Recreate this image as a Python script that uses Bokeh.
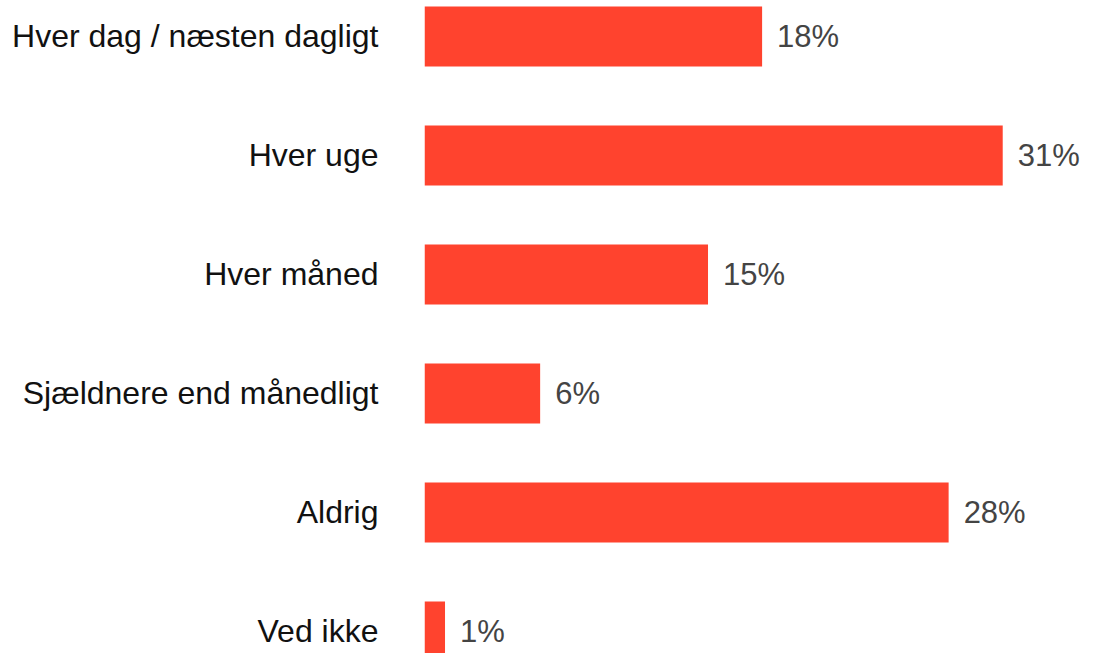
from bokeh.plotting import figure
from bokeh.models import ColumnDataSource, Range1d, FixedTicker
from bokeh.embed import file_html
from bokeh.resources import INLINE
from bokeh.core.properties import value

categories = ["Hver dag / næsten dagligt", "Hver uge", "Hver måned",
              "Sjældnere end månedligt", "Aldrig", "Ved ikke"]
values = [18.1, 31.0, 15.2, 6.2, 28.1, 1.1]
value_labels = ["18%", "31%", "15%", "6%", "28%", "1%"]

positions = list(range(len(categories)))

src = ColumnDataSource(dict(y=positions, v=values, lab=value_labels))

# fits 1096x669 window with 8px page margin
p = figure(width=1080, height=653, output_backend="svg", toolbar_location=None,
           x_range=Range1d(0, 35.17), y_range=Range1d(5.185, -0.3025),
           min_border_left=424, min_border_right=0, min_border_top=0, min_border_bottom=0)

p.hbar(y="y", left=0, right="v", height=0.504, source=src,
       fill_color="#FF432E", line_color=None)
p.text(x="v", y="y", text="lab", source=src, x_offset=15,
       text_baseline="middle", text_align="left",
       text_font=value("Liberation Sans"), text_font_size="31px",
       text_color="#444444")

p.xaxis.visible = False
yax = p.yaxis[0]
yax.ticker = FixedTicker(ticks=positions)
yax.major_label_overrides = {i: c for i, c in zip(positions, categories)}
yax.major_label_text_font = "Liberation Sans"
yax.major_label_text_font_size = "32px"
yax.major_label_text_color = "#111111"
yax.major_label_standoff = 46
yax.major_tick_out = 0
yax.major_tick_in = 0
yax.minor_tick_out = 0
yax.minor_tick_in = 0
yax.major_tick_line_color = None
yax.minor_tick_line_color = None
yax.axis_line_color = None
p.xgrid.visible = False
p.ygrid.visible = False
p.outline_line_color = None
p.background_fill_color = "white"
p.border_fill_color = "white"

open("out.html", "w").write(file_html(p, INLINE))
